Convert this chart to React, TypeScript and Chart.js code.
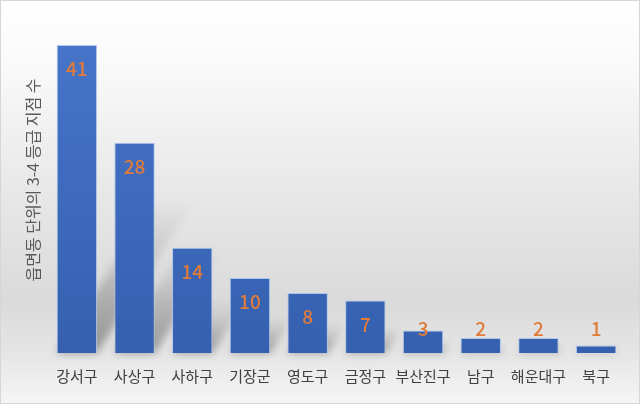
import React, { useEffect, useRef } from "react";
import { Chart, registerables } from "chart.js";

Chart.register(...registerables);

const categories = ["강서구", "사상구", "사하구", "기장군", "영도구", "금정구", "부산진구", "남구", "해운대구", "북구"];
const counts = [41, 28, 14, 10, 8, 7, 3, 2, 2, 1];
const yTitle = "읍면동 단위의 3-4 등급 지점 수";

const FONT = "'Noto Sans CJK KR', 'Noto Sans', sans-serif";

const bgPlugin = {
  id: "bgPlugin",
  beforeDraw(chart: any) {
    const { ctx, width, height } = chart;
    ctx.save();
    const g = ctx.createLinearGradient(0, 0, 0, height);
    g.addColorStop(0, "#ffffff");
    g.addColorStop(0.15, "#fafafa");
    g.addColorStop(0.45, "#e9e9e9");
    g.addColorStop(0.75, "#dadada");
    g.addColorStop(0.88, "#e6e6e6");
    g.addColorStop(1, "#f5f5f5");
    ctx.fillStyle = g;
    ctx.fillRect(0, 0, width, height);
    ctx.strokeStyle = "#d6d6d6";
    ctx.lineWidth = 1;
    ctx.strokeRect(0.5, 0.5, width - 1, height - 1);
    ctx.translate(33, 180);
    ctx.rotate(-Math.PI / 2);
    ctx.font = `16px ${FONT}`;
    ctx.fillStyle = "#595959";
    ctx.textAlign = "center";
    ctx.textBaseline = "middle";
    ctx.fillText(yTitle, 0, 0);
    ctx.restore();
  },
};

const shadowPlugin = {
  id: "shadowPlugin",
  beforeDatasetsDraw(chart: any) {
    const { ctx } = chart;
    const meta = chart.getDatasetMeta(0);
    ctx.save();
    ctx.filter = "blur(4px)";
    meta.data.forEach((bar: any) => {
      const { x, y, base, width } = bar.getProps(["x", "y", "base", "width"], true);
      const h = base - y;
      const x0 = x - width / 2;
      const x1 = x + width / 2;
      const dy = h * 0.5;
      const dx = h * 0.32;
      const g = ctx.createLinearGradient(0, base, 0, base - dy);
      g.addColorStop(0, "rgba(80,80,80,0.55)");
      g.addColorStop(1, "rgba(120,120,120,0)");
      ctx.fillStyle = g;
      ctx.beginPath();
      ctx.moveTo(x0, base);
      ctx.lineTo(x1, base);
      ctx.lineTo(x1 + dx, base - dy);
      ctx.lineTo(x0 + dx, base - dy);
      ctx.closePath();
      ctx.fill();
    });
    ctx.restore();
  },
};

const labelPlugin = {
  id: "labelPlugin",
  afterDatasetsDraw(chart: any) {
    const { ctx } = chart;
    const meta = chart.getDatasetMeta(0);
    const values = chart.data.datasets[0].data;
    ctx.save();
    ctx.font = `500 19px ${FONT}`;
    ctx.fillStyle = "#e07b39";
    ctx.textAlign = "center";
    ctx.textBaseline = "middle";
    meta.data.forEach((bar: any, i: number) => {
      const { x, y, base } = bar.getProps(["x", "y", "base"], true);
      const ly = Math.min(y + 24, base - 24);
      ctx.fillText(String(values[i]), x, ly);
    });
    ctx.restore();
  },
};

export default function App() {
  const ref = useRef<HTMLCanvasElement>(null);
  useEffect(() => {
    const canvas = ref.current!;
    const chart = new Chart(canvas, {
      type: "bar",
      data: {
        labels: categories,
        datasets: [
          {
            data: counts,
            backgroundColor: (c: any) => {
              const area = c.chart.chartArea;
              if (!area) return "#4472c4";
              const g = c.chart.ctx.createLinearGradient(0, area.top, 0, area.bottom);
              g.addColorStop(0, "#4674c8");
              g.addColorStop(1, "#3560b0");
              return g;
            },
            borderColor: "rgba(170,195,235,0.9)",
            borderWidth: 1,
            barPercentage: 0.7,
            categoryPercentage: 1,
          },
        ],
      },
      options: {
        responsive: false,
        animation: false,
        layout: { padding: { left: 48, right: 15, top: 45, bottom: 5 } },
        plugins: { legend: { display: false }, tooltip: { enabled: false } },
        scales: {
          x: {
            grid: { display: false, drawTicks: false },
            border: { display: false },
            ticks: { color: "#404040", font: { family: FONT, size: 15 }, padding: 14, maxRotation: 0, autoSkip: false },
          },
          y: { display: false, min: 0, max: 41 },
        },
      },
      plugins: [bgPlugin, shadowPlugin, labelPlugin],
    });
    return () => chart.destroy();
  }, []);
  return (
    <div style={{ position: "fixed", left: 0, top: 0, width: 640, height: 404 }}>
      <canvas ref={ref} width={640} height={404} style={{ display: "block", width: 640, height: 404 }} />
    </div>
  );
}
